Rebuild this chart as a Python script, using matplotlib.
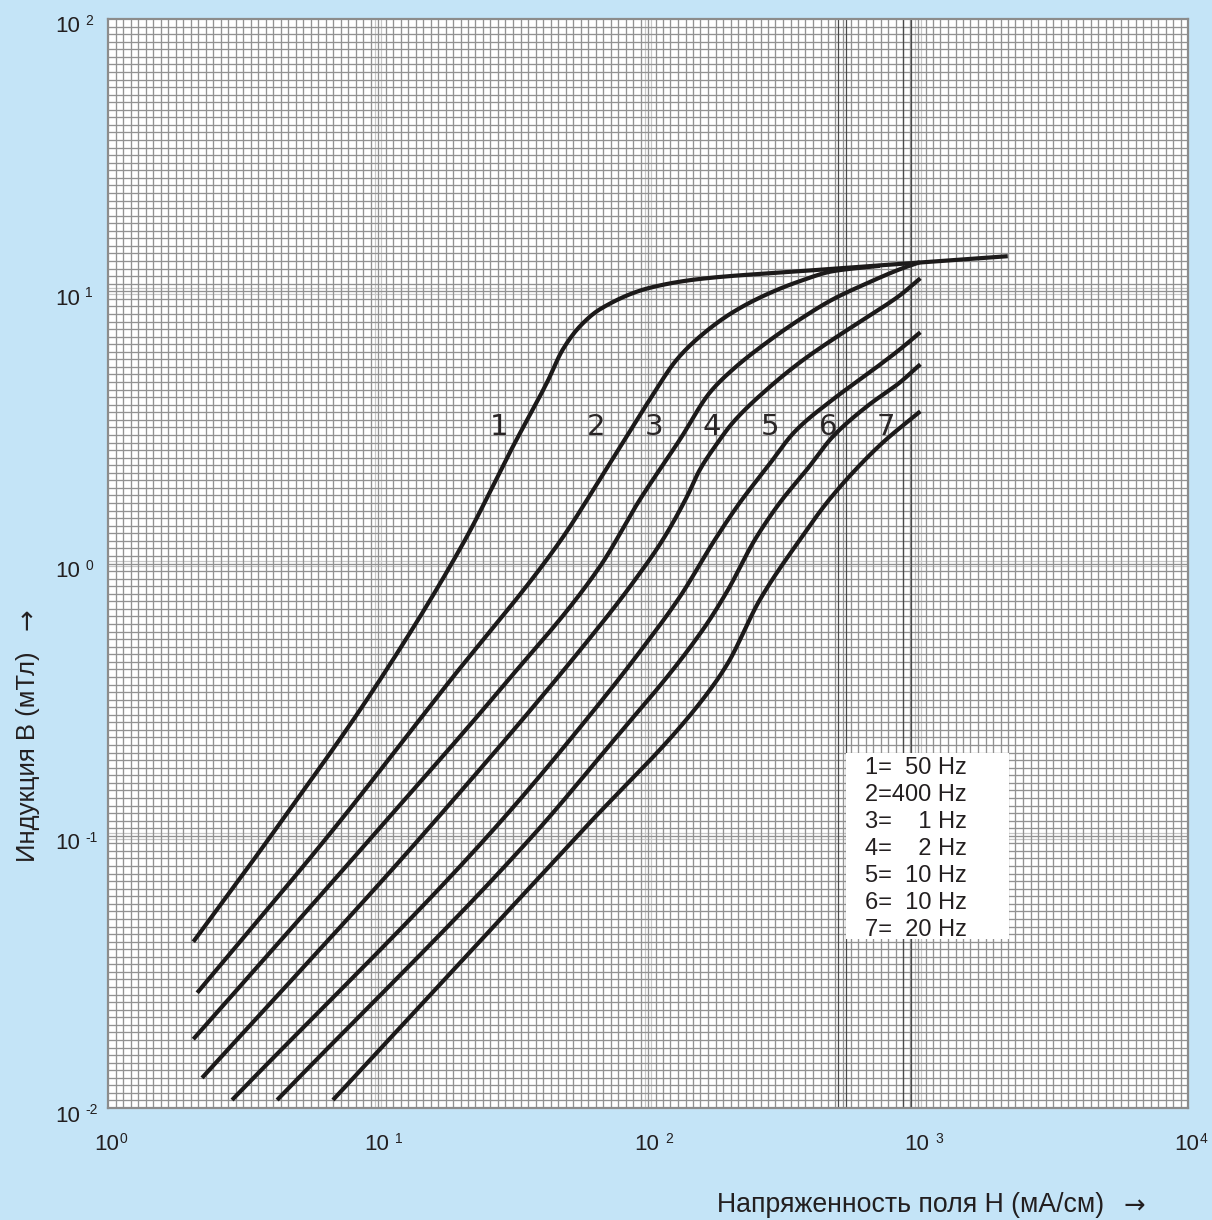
import numpy as np
import matplotlib
matplotlib.use("Agg")
import matplotlib.pyplot as plt
from matplotlib.patches import Rectangle

plt.rcParams['font.family'] = ['Liberation Sans', 'DejaVu Sans']

# ---------------- data (H in mA/cm, B in mT) ----------------
H1 = [2.07, 4.16, 9.9, 21.0, 31.6, 42.3, 48.4, 56.0, 66.4, 101.7, 156, 366, 858, 2150]
B1 = [0.0408, 0.105, 0.359, 1.22, 2.69, 4.63, 6.12, 7.44, 8.59, 10.3, 11.1, 11.85, 12.6, 13.45]

H2 = [2.14, 6.81, 18.0, 47.6, 66.4, 101.7, 128, 156, 206, 276, 366, 484, 723]
B2 = [0.0265, 0.105, 0.359, 1.22, 2.04, 4.01, 5.62, 6.83, 8.37, 9.75, 10.9, 11.85, 12.4]

H3 = [2.07, 10.0, 28.3, 66.4, 93.4, 131.4, 169.7, 206.5, 275.9, 365.6, 484.4, 647.4, 857.7, 1017]
B3 = [0.0179, 0.105, 0.344, 0.975, 1.719, 2.857, 4.253, 5.168, 6.494, 7.889, 9.346, 10.70, 12.05, 12.79]

H4 = [2.23, 15.2, 66.4, 88.0, 113.6, 139.5, 155.8, 177.1, 206.5, 275.9, 365.6, 484.4, 647.4, 857.7, 1020]
B4 = [0.0129, 0.105, 0.592, 0.851, 1.225, 1.763, 2.216, 2.692, 3.299, 4.362, 5.483, 6.661, 8.026, 9.667, 11.16]

H5 = [2.88, 26.7, 66.4, 93.4, 131.4, 177.1, 219.1, 275.9, 350.3, 484.4, 647.4, 857.7, 1020]
B5 = [0.0107, 0.105, 0.308, 0.475, 0.756, 1.225, 1.676, 2.254, 3.057, 4.008, 4.953, 6.121, 7.068]

H6 = [4.23, 39.1, 66.4, 159.8, 196.2, 249.1, 308.3, 388.1, 484.4, 647.4, 857.7, 1020]
B6 = [0.0107, 0.105, 0.1952, 0.572, 0.789, 1.225, 1.676, 2.216, 2.930, 3.779, 4.628, 5.392]

H7 = [6.81, 57.4, 151.9, 196.2, 259.9, 365.6, 460.3, 574.5, 742.0, 1020]
B7 = [0.0107, 0.105, 0.298, 0.4253, 0.7374, 1.225, 1.676, 2.161, 2.786, 3.622]

curve_names = ['1', '2', '3', '4', '5', '6', '7']
label_H = [28.1, 64.2, 105, 173, 283, 464, 761]
label_B = 3.16

legend_lines = ['1=  50 Hz', '2=400 Hz', '3=    1 Hz', '4=    2 Hz',
                '5=  10 Hz', '6=  10 Hz', '7=  20 Hz']

x_ticks = [1, 10, 100, 1000, 10000]
x_exp = ['0', '1', '2', '3', '4']
y_ticks = [0.01, 0.1, 1, 10, 100]
y_exp = ['-2', '-1', '0', '1', '2']

xlabel = 'Напряженность поля Н (мА/см)'
ylabel = 'Индукция В (мТл)'
arrow = '→'


def pchip(x, y, xn):
    x = np.asarray(x, float); y = np.asarray(y, float)
    h = np.diff(x); d = np.diff(y) / h
    m = np.zeros_like(y)
    m[0] = d[0]; m[-1] = d[-1]
    for k in range(1, len(x) - 1):
        if d[k - 1] * d[k] > 0:
            w1 = 2 * h[k] + h[k - 1]; w2 = h[k] + 2 * h[k - 1]
            m[k] = (w1 + w2) / (w1 / d[k - 1] + w2 / d[k])
    idx = np.clip(np.searchsorted(x, xn) - 1, 0, len(x) - 2)
    t = (xn - x[idx]) / h[idx]
    h00 = 2 * t**3 - 3 * t**2 + 1; h10 = t**3 - 2 * t**2 + t
    h01 = -2 * t**3 + 3 * t**2; h11 = t**3 - t**2
    return h00 * y[idx] + h10 * h[idx] * m[idx] + h01 * y[idx + 1] + h11 * h[idx] * m[idx + 1]


def smooth(H, B):
    lx = np.log10(H); ly = np.log10(B)
    xn = np.linspace(lx[0], lx[-1], 400)
    return 10 ** xn, 10 ** pchip(lx, ly, xn)


fig = plt.figure(figsize=(12.12, 12.2), dpi=100)
fig.patch.set_facecolor('#C4E4F7')
W, Hh = 1212, 1220
ax = fig.add_axes([108 / W, 1 - 1108 / Hh, 1080 / W, 1089 / Hh])
ax.set_facecolor('white')
ax.set_xscale('log'); ax.set_yscale('log')
ax.set_xlim(1, 1e4); ax.set_ylim(1e-2, 1e2)
ax.set_xticks([]); ax.set_yticks([])
ax.minorticks_off()
ax.tick_params(which='both', length=0, labelbottom=False, labelleft=False)
for s in ax.spines.values():
    s.set_color('#8c8c8c'); s.set_linewidth(1.6)

# paper grid (uniform lattice)
n = 144
g = np.linspace(0, 1, n + 1)[1:-1]
ax.vlines(g, 0, 1, transform=ax.transAxes, colors='#929292', lw=0.95, zorder=1)
ax.hlines(g, 0, 1, transform=ax.transAxes, colors='#929292', lw=0.95, zorder=1)
# extra darker lines
for px in [838, 846, 903, 911]:
    ax.axvline(10 ** ((px - 108) / 270), color='#4a4a4a', lw=0.9, zorder=1.2)
# light decade double lines
for xv in [10, 100, 1000]:
    for f in (0.975, 1.025):
        ax.axvline(xv * f, color='#c8c8c8', lw=0.9, zorder=0.9)
for yv in [0.1, 1, 10]:
    for f in (0.975, 1.025):
        ax.axhline(yv * f, color='#c8c8c8', lw=0.9, zorder=0.9)

# curves
for H, B in [(H1, B1), (H2, B2), (H3, B3), (H4, B4), (H5, B5), (H6, B6), (H7, B7)]:
    xs, ys = smooth(H, B)
    ax.plot(xs, ys, color='#1c1a1a', lw=3.0, solid_capstyle='butt', zorder=3)

for name, xv in zip(curve_names, label_H):
    ax.text(xv, label_B, name, family='DejaVu Sans', fontsize=21, color='#2a2627',
            ha='center', va='center', zorder=4)

# legend box
x0 = (846 - 108) / 1080; x1 = (1009 - 108) / 1080
yb = (1108 - 939) / 1089; yt = (1108 - 753) / 1089
ax.add_patch(Rectangle((x0, yb), x1 - x0, yt - yb, transform=ax.transAxes,
                       facecolor='white', edgecolor='none', zorder=2.5))
for i, line in enumerate(legend_lines):
    ax.text((865 - 108) / 1080, (1108 - 768 - 27 * i) / 1089, line, transform=ax.transAxes,
            fontsize=17, color='#231f20', ha='left', va='center', zorder=4)

# tick labels
for xv, e in zip(x_ticks, x_exp):
    gap = 0 if e in ('0', '4') else 5
    ax.annotate('10', xy=(xv, 0), xycoords=('data', 'axes fraction'), xytext=(-1, -37),
                textcoords='offset pixels', ha='center', va='center', fontsize=16,
                color='#231f20', annotation_clip=False)
    ax.annotate(e, xy=(xv, 0), xycoords=('data', 'axes fraction'), xytext=(12 + gap, -31),
                textcoords='offset pixels', ha='left', va='center', fontsize=10,
                color='#231f20', annotation_clip=False)
for yv, e in zip(y_ticks, y_exp):
    ax.annotate('10', xy=(0, yv), xycoords=('axes fraction', 'data'), xytext=(-28, -8),
                textcoords='offset pixels', ha='right', va='center', fontsize=16,
                color='#231f20', annotation_clip=False)
    ax.annotate(e, xy=(0, yv), xycoords=('axes fraction', 'data'), xytext=(-23, -2),
                textcoords='offset pixels', ha='left', va='center', fontsize=10,
                color='#231f20', annotation_clip=False)

fig.text(1104 / W, 1 - 1205 / Hh, xlabel, ha='right', va='center', fontsize=19.2, color='#231f20')
fig.text(1145 / W, 1 - 1207 / Hh, arrow, ha='right', va='center', fontsize=18.5,
         family='DejaVu Sans', color='#231f20')
fig.text(28 / W, 1 - 862 / Hh, ylabel, ha='center', va='bottom', rotation=90,
         fontsize=18.5, color='#231f20')
fig.text(28 / W, 1 - 608 / Hh, arrow, ha='center', va='top', rotation=90,
         fontsize=18.5, family='DejaVu Sans', color='#231f20')

fig.savefig('out.png', dpi=100, facecolor=fig.get_facecolor())
